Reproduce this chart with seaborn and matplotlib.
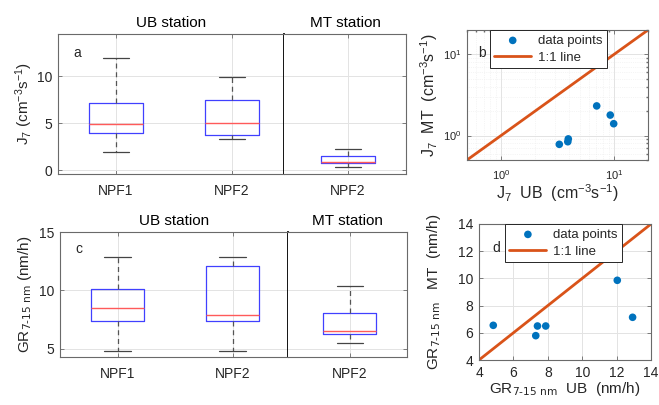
import numpy as np
import pandas as pd
import seaborn as sns
from matplotlib import pyplot as plt

# five-number summaries: [min, q1, median, q3, max]
j7_ub_npf1 = [1.9, 4.0, 4.9, 7.2, 11.9]
j7_ub_npf2 = [3.3, 3.8, 5.0, 7.5, 9.9]
j7_mt_npf2 = [0.3, 0.75, 0.9, 1.5, 2.3]
gr_ub_npf1 = [4.8, 7.4, 8.5, 10.15, 12.85]
gr_ub_npf2 = [4.8, 7.4, 7.9, 12.1, 12.85]
gr_mt_npf2 = [5.5, 6.3, 6.5, 8.1, 10.4]

# paired event values UB vs MT
j7_ub = [3.28, 3.9, 3.94, 7.03, 9.27, 9.94]
j7_mt = [0.78, 0.84, 0.91, 2.32, 1.79, 1.40]
gr_ub = [4.83, 7.30, 7.40, 7.88, 12.04, 12.93]
gr_mt = [6.55, 5.79, 6.50, 6.50, 9.86, 7.14]

j7_lim = [0.5, 20]
gr_lim = [4, 14]

sns.set_theme(style="white")
plt.rcParams["font.family"] = ["Liberation Sans", "DejaVu Sans"]
plt.rcParams["mathtext.default"] = "regular"

dark = "#262626"
frame = "#6a6a6a"
blue = "#0072BD"
orange = "#D95319"

fig = plt.figure(figsize=(6.59, 4.05), dpi=100)


def pos(x0, y0, x1, y1):
    return [x0 / 659, 1 - y1 / 405, (x1 - x0) / 659, (y1 - y0) / 405]


def style(ax, size=10):
    for s in ax.spines.values():
        s.set_color(frame)
        s.set_linewidth(0.8)
    ax.tick_params(direction="in", length=3, width=0.6, colors=frame,
                   labelcolor=dark, labelsize=size, top=True, right=True,
                   bottom=True, left=True, pad=4)
    ax.grid(True, color="#e3e3e3", linewidth=0.7)
    ax.set_axisbelow(True)


def boxes(ax, groups, labels):
    df = pd.DataFrame({
        "event": np.repeat(labels, 5),
        "value": np.concatenate(groups),
    })
    sns.boxplot(data=df, x="event", y="value", ax=ax, whis=(0, 100),
                width=0.46, fill=False, color="blue", linewidth=0.9,
                boxprops=dict(color="#4040ff"),
                medianprops=dict(color="#ff5a5a", linewidth=1.0),
                whiskerprops=dict(color="#555555", linestyle=(0, (4, 3))),
                capprops=dict(color="#444444"))
    ax.set_xlabel("")
    ax.set_ylabel("")


def box_panel(ax_l, ax_r, ub, mt, ylim, yticks, ylabel, letter, xl, xr, lab_x):
    boxes(ax_l, ub, ["NPF1", "NPF2"])
    boxes(ax_r, mt, ["NPF2"])
    for ax in (ax_l, ax_r):
        style(ax)
        ax.set_ylim(ylim)
        ax.set_yticks(yticks)
        ax.tick_params(axis="x", pad=7)
    ax_l.set_xlim(xl)
    ax_r.set_xlim(xr)
    ax_r.tick_params(left=False, labelleft=False)
    ax_l.tick_params(right=False)
    ax_l.spines["right"].set_color("black")
    ax_l.spines["right"].set_linewidth(1.3)
    ax_r.spines["left"].set_visible(False)
    ax_l.set_title("UB station", fontsize=11, color="black", pad=5)
    ax_r.set_title("MT station", fontsize=11, color="black", pad=5)
    ax_l.set_ylabel(ylabel, fontsize=11, color=dark)
    ax_l.yaxis.set_label_coords(lab_x, 0.5)
    ax_l.text(0.066, 0.865, letter, transform=ax_l.transAxes, fontsize=10,
              va="center")


# panel a
ax_a1 = fig.add_axes(pos(58, 34, 284, 174))
ax_a2 = fig.add_axes(pos(284, 34, 406, 174))
box_panel(ax_a1, ax_a2, [j7_ub_npf1, j7_ub_npf2], [j7_mt_npf2],
          (-0.4, 14.5), [0, 5, 10], r"J$_7$ (cm$^{-3}$s$^{-1}$)", "a",
          (-0.5, 1.45), (-0.55, 0.5), -0.1)

# panel c
ax_c1 = fig.add_axes(pos(60, 232, 288, 357))
ax_c2 = fig.add_axes(pos(288, 232, 407, 357))
box_panel(ax_c1, ax_c2, [gr_ub_npf1, gr_ub_npf2], [gr_mt_npf2],
          (4.3, 15), [5, 10, 15], r"GR$_{\text{7-15 nm}}$ (nm/h)", "c",
          (-0.5, 1.48), (-0.54, 0.5), -0.115)


def scatter_panel(ax, x, y, lim, letter, anchor, lx):
    sns.scatterplot(x=x, y=y, ax=ax, color=blue, s=30, edgecolor="none",
                    label="data points", zorder=3)
    sns.lineplot(x=lim, y=lim, ax=ax, color=orange, linewidth=2,
                 label="1:1 line", zorder=2)
    ax.set_xlim(lim)
    ax.set_ylim(lim)
    leg = ax.legend(loc="upper left", bbox_to_anchor=(anchor, 1.0),
                    borderaxespad=0, fontsize=9.5, frameon=True,
                    fancybox=False, framealpha=1, handlelength=2.8,
                    borderpad=0.35, labelspacing=0.35, handletextpad=0.5)
    leg.get_frame().set_edgecolor(dark)
    leg.get_frame().set_linewidth(0.7)
    ax.text(lx, 0.82, letter, transform=ax.transAxes, fontsize=10,
            va="center")


# panel b
ax_b = fig.add_axes(pos(467, 30, 648, 160))
ax_b.set_xscale("log")
ax_b.set_yscale("log")
scatter_panel(ax_b, j7_ub, j7_mt, j7_lim, "b", 0.125, 0.06)
style(ax_b, size=8)
ax_b.grid(True, which="minor", color="#ececec", linewidth=0.5,
          linestyle=":")
ax_b.tick_params(which="minor", direction="in", length=1.5, colors=frame,
                 top=True, right=True)
ax_b.tick_params(axis="x", pad=6)
ax_b.set_xlabel(r"J$_7$  UB  (cm$^{-3}$s$^{-1}$)", fontsize=11.5, color=dark,
                labelpad=0)
ax_b.set_ylabel(r"J$_7$  MT  (cm$^{-3}$s$^{-1}$)", fontsize=11.5, color=dark)
ax_b.yaxis.set_label_coords(-0.15, 0.5)

# panel d
ax_d = fig.add_axes(pos(479, 224, 651, 360))
scatter_panel(ax_d, gr_ub, gr_mt, gr_lim, "d", 0.15, 0.08)
style(ax_d, size=10)
ax_d.set_xticks(range(4, 15, 2))
ax_d.set_yticks(range(4, 15, 2))
ax_d.set_xlabel(r"GR$_{\text{7-15 nm}}$  UB  (nm/h)", fontsize=11, color=dark,
                labelpad=0)
ax_d.set_ylabel(r"GR$_{\text{7-15 nm}}$   MT  (nm/h)", fontsize=11,
                color=dark)
ax_d.yaxis.set_label_coords(-0.21, 0.5)

fig.savefig("out.png", dpi=100)
